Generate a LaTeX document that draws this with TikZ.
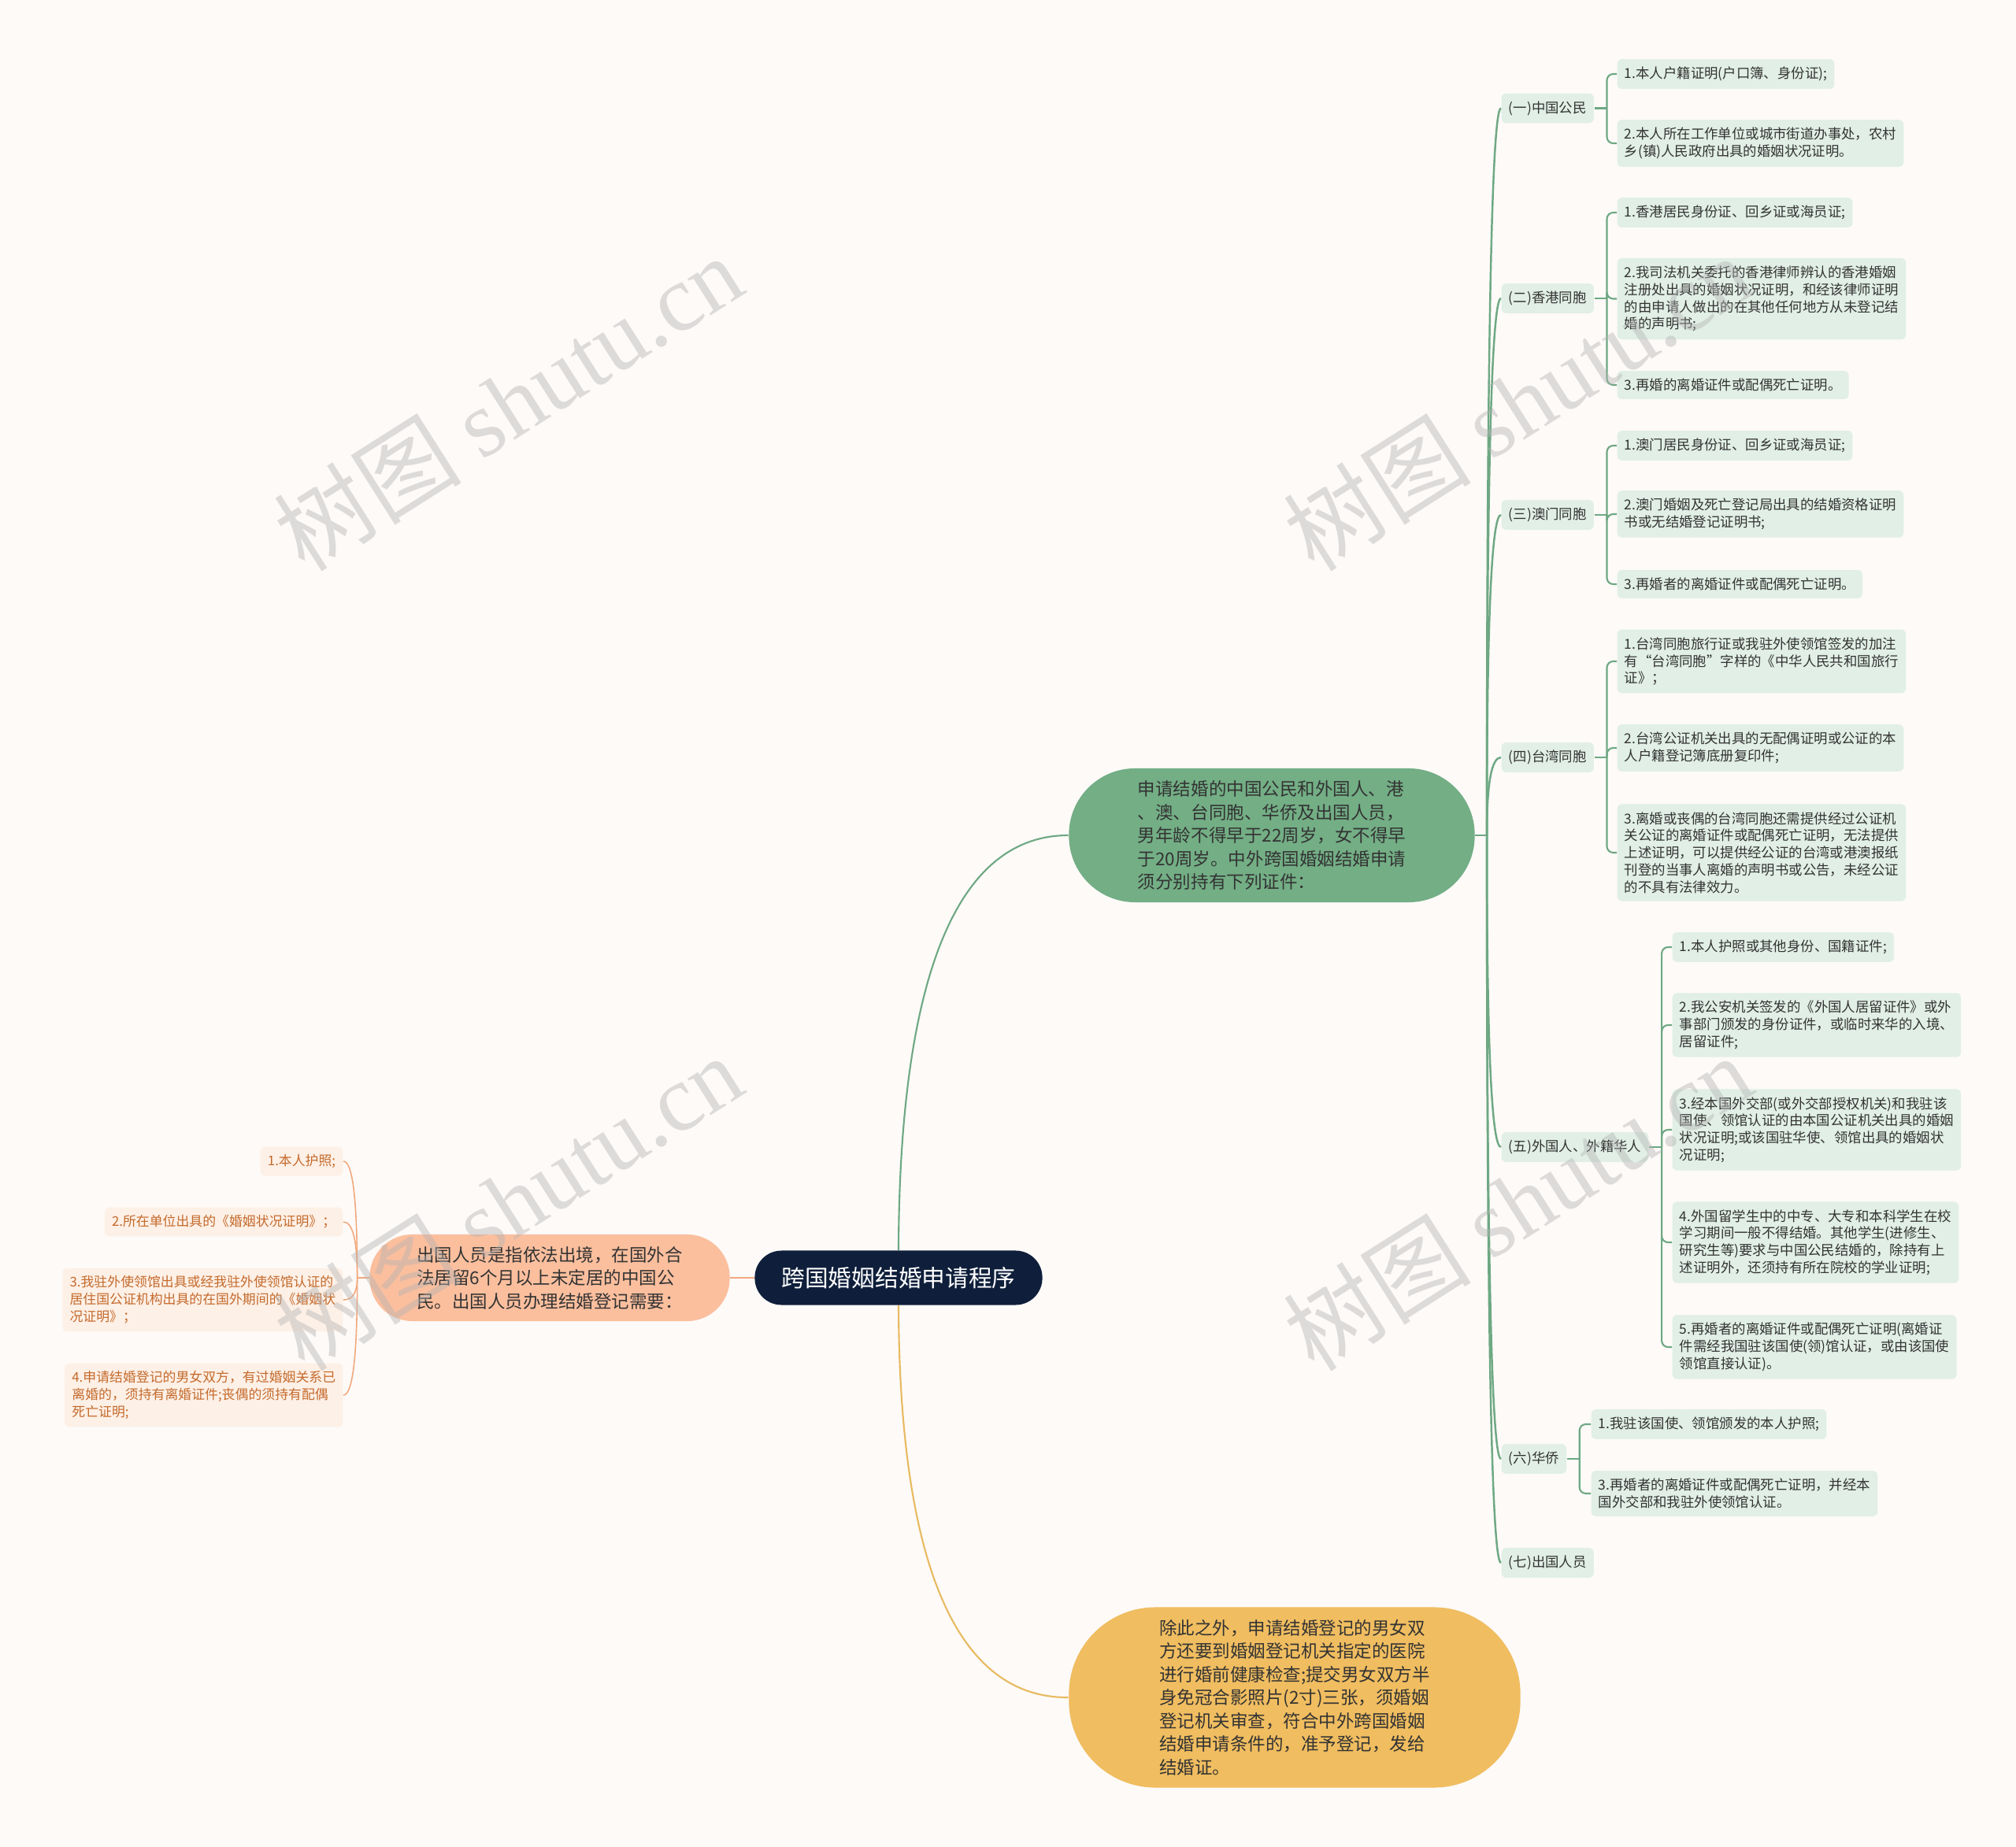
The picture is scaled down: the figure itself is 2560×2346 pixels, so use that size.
\documentclass[tikz,border=0pt]{standalone}
\usepackage{fontspec}
\setmainfont{Noto Sans CJK SC}
\newfontfamily\wmlatin{Liberation Serif}
\usepackage{xcolor}
\usetikzlibrary{calc}
\definecolor{bgpaper}{RGB}{253,250,248}
\definecolor{navy}{RGB}{15,31,59}
\definecolor{maingreen}{RGB}{115,174,133}
\definecolor{linegreen}{RGB}{110,168,131}
\definecolor{leafgreen}{RGB}{225,239,230}
\definecolor{mainpeach}{RGB}{251,191,158}
\definecolor{linepeach}{RGB}{242,168,125}
\definecolor{leafpeach}{RGB}{253,240,230}
\definecolor{textpeach}{RGB}{196,106,44}
\definecolor{mainyellow}{RGB}{240,189,96}
\definecolor{lineyellow}{RGB}{232,186,96}
\definecolor{darktext}{RGB}{51,51,51}

\begin{document}
\begin{tikzpicture}[
  x=0.01cm, y=-0.01cm,
  root/.style={fill=navy, text=white, rounded corners=0.34cm, minimum width=3.65cm,
    minimum height=0.69cm, font=\fontsize{8.45pt}{10pt}\selectfont},
  topic/.style={rounded corners=#1, align=left, text=darktext, inner sep=0pt,
    font=\fontsize{6.4pt}{8.4pt}\selectfont},
  cat/.style={fill=leafgreen, rounded corners=0.06cm, inner xsep=2.6pt, inner ysep=2.8pt,
    align=left, text=darktext, font=\fontsize{4.95pt}{6.2pt}\selectfont},
  pleaf/.style={cat, fill=leafpeach, text=textpeach, font=\fontsize{4.8pt}{6.2pt}\selectfont},
  gline/.style={draw=linegreen, line width=0.7pt},
  gbrace/.style={draw=linegreen, line width=0.6pt, rounded corners=0.08cm},
  pline/.style={draw=linepeach, line width=0.45pt},
  wmark/.style={rotate=32.4, text=gray!60, opacity=0.42, font=\fontsize{34pt}{34pt}\selectfont}
]
  \clip (0,0) rectangle (2560,2346);
  \fill[bgpaper] (0,0) rectangle (2560,2346);

  % centre and main topics
  \node[root] (root) at (1141,1623) {跨国婚姻结婚申请程序};
  \node[topic=0.84cm, fill=maingreen, minimum width=5.15cm, minimum height=1.7cm] (apply) at (1615,1061)
    {申请结婚的中国公民和外国人、港\\、澳、台同胞、华侨及出国人员，\\男年龄不得早于22周岁，女不得早\\于20周岁。中外跨国婚姻结婚申请\\须分别持有下列证件：};
  \node[topic=0.54cm, fill=mainpeach, minimum width=4.57cm, minimum height=1.1cm] (abroad) at (698,1623)
    {出国人员是指依法出境，在国外合\\法居留6个月以上未定居的中国公\\民。出国人员办理结婚登记需要：};
  \node[topic=1.1cm, fill=mainyellow, minimum width=5.73cm, minimum height=2.29cm] (extra) at (1644,2156)
    {除此之外，申请结婚登记的男女双\\方还要到婚姻登记机关指定的医院\\进行婚前健康检查;提交男女双方半\\身免冠合影照片(2寸)三张，须婚姻\\登记机关审查，符合中外跨国婚姻\\结婚申请条件的，准予登记，发给\\结婚证。};

  \draw[linegreen, line width=0.6pt] (root.north) .. controls (1142,1280) and (1200,1061) .. (apply.west);
  \draw[lineyellow, line width=0.6pt] (root.south) .. controls (1142,1950) and (1200,2157) .. (extra.west);
  \draw[linepeach, line width=0.6pt] (root.west) -- (abroad.east);

  % categories
  \node[cat, anchor=west] (c1) at (1906,137.5) {(一)中国公民};
  \node[cat, anchor=west] (c2) at (1906,379) {(二)香港同胞};
  \node[cat, anchor=west] (c3) at (1906,654) {(三)澳门同胞};
  \node[cat, anchor=west] (c4) at (1906,962) {(四)台湾同胞};
  \node[cat, anchor=west] (c5) at (1906,1457) {(五)外国人、外籍华人};
  \node[cat, anchor=west] (c6) at (1906,1853) {(六)华侨};
  \node[cat, anchor=west] (c7) at (1906,1985) {(七)出国人员};

  % leaves
  \node[cat, anchor=west] (c1a) at (2053,94) {1.本人户籍证明(户口簿、身份证);};
  \node[cat, anchor=west] (c1b) at (2053,182) {2.本人所在工作单位或城市街道办事处，农村\\乡(镇)人民政府出具的婚姻状况证明。};
  \node[cat, anchor=west] (c2a) at (2053,270) {1.香港居民身份证、回乡证或海员证;};
  \node[cat, anchor=west] (c2b) at (2053,379.5) {2.我司法机关委托的香港律师辨认的香港婚姻\\注册处出具的婚姻状况证明，和经该律师证明\\的由申请人做出的在其他任何地方从未登记结\\婚的声明书;};
  \node[cat, anchor=west] (c2c) at (2053,489) {3.再婚的离婚证件或配偶死亡证明。};
  \node[cat, anchor=west] (c3a) at (2053,566) {1.澳门居民身份证、回乡证或海员证;};
  \node[cat, anchor=west] (c3b) at (2053,653) {2.澳门婚姻及死亡登记局出具的结婚资格证明\\书或无结婚登记证明书;};
  \node[cat, anchor=west] (c3c) at (2053,742) {3.再婚者的离婚证件或配偶死亡证明。};
  \node[cat, anchor=west] (c4a) at (2053,840) {1.台湾同胞旅行证或我驻外使领馆签发的加注\\有“台湾同胞”字样的《中华人民共和国旅行\\证》；};
  \node[cat, anchor=west] (c4b) at (2053,950) {2.台湾公证机关出具的无配偶证明或公证的本\\人户籍登记簿底册复印件;};
  \node[cat, anchor=west] (c4c) at (2053,1083) {3.离婚或丧偶的台湾同胞还需提供经过公证机\\关公证的离婚证件或配偶死亡证明，无法提供\\上述证明，可以提供经公证的台湾或港澳报纸\\刊登的当事人离婚的声明书或公告，未经公证\\的不具有法律效力。};
  \node[cat, anchor=west] (c5a) at (2123,1203) {1.本人护照或其他身份、国籍证件;};
  \node[cat, anchor=west] (c5b) at (2123,1302) {2.我公安机关签发的《外国人居留证件》或外\\事部门颁发的身份证件，或临时来华的入境、\\居留证件;};
  \node[cat, anchor=west] (c5c) at (2123,1435) {3.经本国外交部(或外交部授权机关)和我驻该\\国使、领馆认证的由本国公证机关出具的婚姻\\状况证明;或该国驻华使、领馆出具的婚姻状\\况证明;};
  \node[cat, anchor=west] (c5d) at (2123,1578) {4.外国留学生中的中专、大专和本科学生在校\\学习期间一般不得结婚。其他学生(进修生、\\研究生等)要求与中国公民结婚的，除持有上\\述证明外，还须持有所在院校的学业证明;};
  \node[cat, anchor=west] (c5e) at (2123,1711) {5.再婚者的离婚证件或配偶死亡证明(离婚证\\件需经我国驻该国使(领)馆认证，或由该国使\\领馆直接认证)。};
  \node[cat, anchor=west] (c6a) at (2020,1809) {1.我驻该国使、领馆颁发的本人护照;};
  \node[cat, anchor=west] (c6b) at (2020,1897) {3.再婚者的离婚证件或配偶死亡证明，并经本\\国外交部和我驻外使领馆认证。};

  \node[pleaf, anchor=east] (o1) at (436,1475) {1.本人护照;};
  \node[pleaf, anchor=east] (o2) at (436,1552) {2.所在单位出具的《婚姻状况证明》；};
  \node[pleaf, anchor=east] (o3) at (436,1651) {3.我驻外使领馆出具或经我驻外使领馆认证的\\居住国公证机构出具的在国外期间的《婚姻状\\况证明》；};
  \node[pleaf, anchor=east] (o4) at (436,1772) {4.申请结婚登记的男女双方，有过婚姻关系已\\离婚的，须持有离婚证件;丧偶的须持有配偶\\死亡证明;};

  % green tree
  \draw[gline] (apply.east) -- (1888,1061) coordinate (gj);
  \foreach \c in {c1,c2,c3,c4,c5,c6,c7}
    \draw[gline] (gj) .. controls ($(gj)!0.667!(gj |- \c.west)$) and ($(\c.west)+(-12,0)$) .. (\c.west);
  \foreach \c/\leaves in {c1/{c1a,c1b}, c2/{c2a,c2b,c2c}, c3/{c3a,c3b,c3c},
                          c4/{c4a,c4b,c4c}, c5/{c5a,c5b,c5c,c5d,c5e}, c6/{c6a,c6b}} {
    \draw[gline] (\c.east) -- ++(16,0) coordinate (\c j);
    \foreach \l in \leaves
      \draw[gbrace] (\c j) |- (\l.west);
  }

  % peach tree
  \draw[pline] (abroad.west) -- ++(-15,0) coordinate (oj);
  \foreach \l in {o1,o2,o3,o4}
    \draw[pline] (oj) .. controls ($(oj)!0.667!(oj |- \l.east)$) and ($(\l.east)+(12,0)$) .. (\l.east);

  % watermarks
  \foreach \wx/\wy in {645/511, 1927/511, 645/1527, 1927/1527, 645/2543, 1927/2543}
    \node[wmark] (wm\wx\wy) at (\wx,\wy) {树图 {\wmlatin shutu.cn}};
\end{tikzpicture}
\end{document}
